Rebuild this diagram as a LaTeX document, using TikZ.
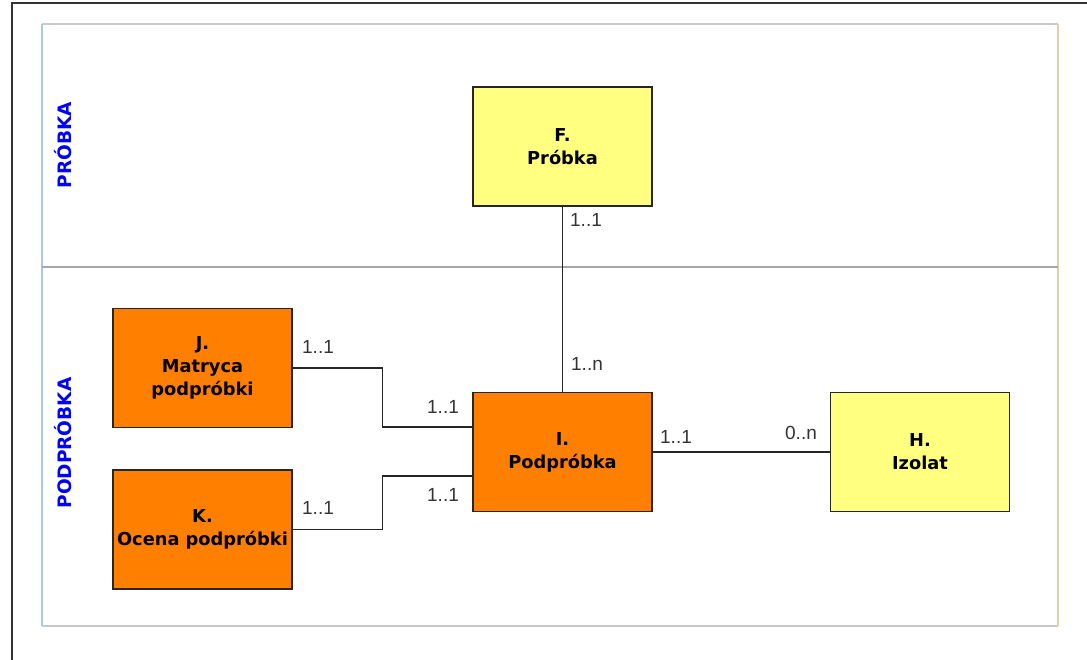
\documentclass[tikz,border=0pt]{standalone}
\usepackage{fontspec}
\setmainfont{DejaVu Sans}
\newfontfamily\labfont{Liberation Sans}
\definecolor{orangeent}{HTML}{FF8000}
\definecolor{yellowent}{HTML}{FFFF80}
\definecolor{lanegray}{HTML}{C8C8C8}
\definecolor{laneblue}{HTML}{A8C8E8}
\definecolor{lanebeige}{HTML}{E2CDB0}
\definecolor{laneblue2}{HTML}{0000FF}
\tikzset{
  entity/.style={draw=black!85, line width=1.4pt, minimum width=179pt, minimum height=119pt,
    inner sep=0pt, align=center, font=\fontsize{17.8}{23}\selectfont\bfseries, text=black},
  orangebox/.style={entity, fill=orangeent},
  yellowbox/.style={entity, fill=yellowent},
  conn/.style={draw=black!85, line width=1.4pt},
  mult/.style={inner sep=0pt, font=\labfont\fontsize{19}{22}\selectfont, text=black!80},
  lanelabel/.style={rotate=90, inner sep=0pt, text=laneblue2, font=\fontsize{18.5}{22}\selectfont\bfseries}
}
\begin{document}
\begin{tikzpicture}[x=1pt,y=-1pt]
\useasboundingbox (0,0) rectangle (1087,660);
\clip (0,0) rectangle (1087,660);
\fill[white] (0,0) rectangle (1087,660);
% outer frame
\draw[black!80, line width=2pt] (12,3) rectangle (1120,700);
% lanes
\draw[lanegray, line width=1.6pt] (42,24) -- (1058,24);
\draw[lanegray, line width=1.6pt] (42,626) -- (1058,626);
\draw[laneblue, line width=1.2pt] (42,24) -- (42,626);
\draw[lanebeige, line width=1.6pt] (1058,24) -- (1058,626);
\draw[black!35, line width=1.2pt] (42,267) -- (1058,267);
\node[lanelabel] (lp) at (63,145) {PRÓBKA};
\node[lanelabel] (lpp) at (63,443) {PODPRÓBKA};
% entities
\node[yellowbox] (F) at (562.5,146.5) {F.\\Próbka};
\node[orangebox] (J) at (202.5,368) {J.\\Matryca\\podpróbki};
\node[orangebox] (K) at (202.5,529.5) {K.\\Ocena podpróbki};
\node[orangebox] (I) at (562.5,452) {I.\\Podpróbka};
\node[yellowbox] (H) at (920,452) {H.\\Izolat};
% connectors
\draw[conn] (F.south) -- (I.north);
\draw[conn] (J.east) -- ++(90,0) |- ([yshift=25pt]I.west);
\draw[conn] (K.east) -- ++(90,0) |- ([yshift=-24pt]I.west);
\draw[conn] (I.east) -- (H.west);
% multiplicities
\node[mult] (m1) at (586,220) {1..1};
\node[mult] (m2) at (587,364) {1..n};
\node[mult] (m3) at (318,347) {1..1};
\node[mult] (m4) at (443,407) {1..1};
\node[mult] (m5) at (443,495) {1..1};
\node[mult] (m6) at (318,508) {1..1};
\node[mult] (m7) at (676,437) {1..1};
\node[mult] (m8) at (801,433) {0..n};
\end{tikzpicture}
\end{document}
